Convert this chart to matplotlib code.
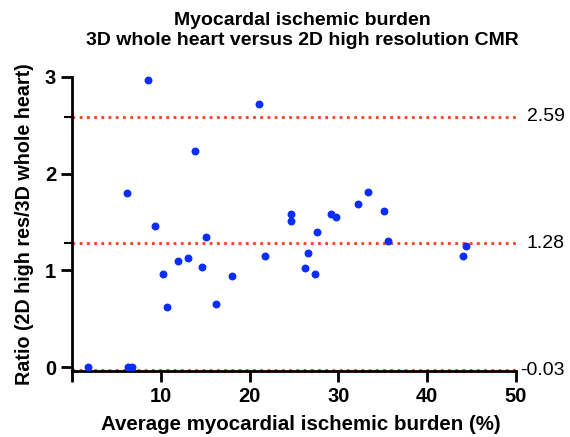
import matplotlib
matplotlib.use("Agg")
import matplotlib.pyplot as plt

plt.rcParams["font.family"] = ["Liberation Sans", "DejaVu Sans"]

# average burden (%) and ratio per patient
burden = [1.8, 6.3, 6.8, 6.2, 8.6, 9.4, 10.2, 10.7, 11.9, 13.1, 13.85,
          14.6, 15.1, 16.2, 18.0, 21.1, 21.7, 24.7, 24.7, 26.3, 26.6,
          27.4, 27.6, 29.2, 29.7, 32.2, 33.4, 35.2, 35.6, 44.1, 44.4]
ratio = [0.0, 0.0, 0.0, 1.80, 2.97, 1.46, 0.96, 0.62, 1.10, 1.13, 2.24,
         1.04, 1.35, 0.65, 0.94, 2.72, 1.15, 1.58, 1.51, 1.02, 1.18,
         0.96, 1.40, 1.58, 1.55, 1.69, 1.81, 1.61, 1.30, 1.15, 1.25]

limits = [2.59, 1.28, -0.03]
limit_labels = ["2.59", "1.28", "-0.03"]

x_ticks = [0, 10, 20, 30, 40, 50]
x_tick_labels = ["", "10", "20", "30", "40", "50"]
y_ticks = [0, 1, 2, 3]

fig = plt.figure(figsize=(5.7, 4.37), dpi=100)
ax = fig.add_axes([0.1263, 0.151, 0.905 - 0.1263, 0.8238 - 0.151])

for lim in limits:
    ax.axhline(lim, color="#ff3b1f", linestyle=(0, (1, 1.6)), linewidth=2, zorder=1)

ax.scatter(burden, ratio, s=22, color="#0a2cff", zorder=3, clip_on=False)

ax.set_xlim(0, 50)
ax.set_ylim(-0.04, 3.0)
ax.set_xticks(x_ticks)
ax.set_xticklabels(x_tick_labels)
ax.set_yticks(y_ticks)
ax.set_yticks(limits[:2], minor=True)

# limit values, right-aligned near the figure edge
trans = ax.get_yaxis_transform()
for lim, lab in zip(limits, limit_labels):
    ax.text(1.11, lim, lab, transform=trans, va="center", ha="right",
            fontsize=14)

ax.spines["top"].set_visible(False)
ax.spines["right"].set_visible(False)
for s in ["left", "bottom"]:
    ax.spines[s].set_linewidth(2)
ax.tick_params(direction="out", length=8, width=2, labelsize=14.5)
ax.tick_params(axis="y", which="minor", direction="out", length=6, width=1.5)
for lbl in ax.get_xticklabels() + ax.get_yticklabels():
    lbl.set_fontweight("bold")

ax.set_xlabel("Average myocardial ischemic burden (%)", fontsize=14.8,
              fontweight="bold")
ax.xaxis.set_label_coords(0.515, -0.15)
ax.set_ylabel("Ratio (2D high res/3D whole heart)", fontsize=14.2,
              fontweight="bold", labelpad=8)
fig.text(0.53, 0.954, "Myocardal ischemic burden", fontsize=14,
         fontweight="bold", ha="center", va="center")
fig.text(0.53, 0.908, "3D whole heart versus 2D high resolution CMR", fontsize=14,
         fontweight="bold", ha="center", va="center")

plt.savefig("out.png", dpi=100)
